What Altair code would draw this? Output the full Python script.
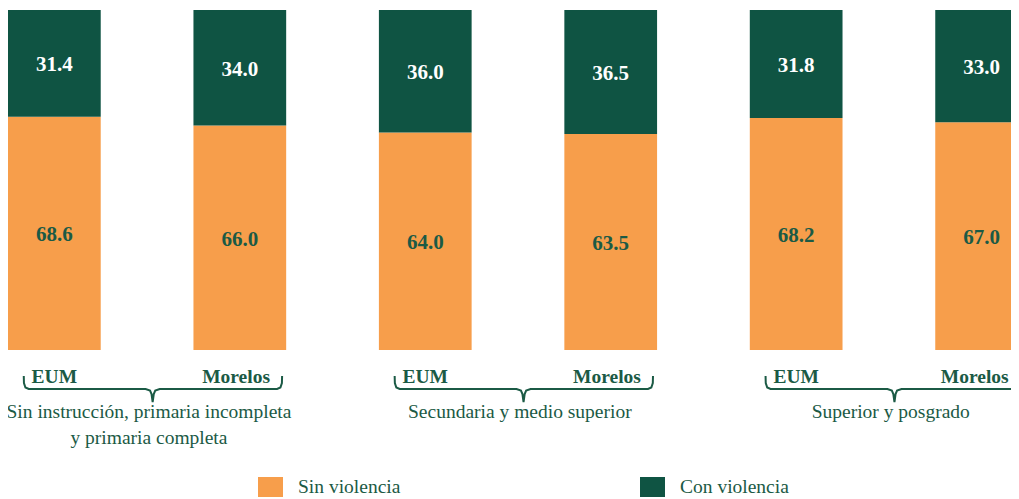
import altair as alt
import pandas as pd

# ---- data ----
categories = ["Sin violencia", "Con violencia"]
entities = ["EUM", "Morelos", "EUM", "Morelos", "EUM", "Morelos"]
bar_group = [0, 0, 1, 1, 2, 2]
sin_violencia = [68.6, 66.0, 64.0, 63.5, 68.2, 67.0]
con_violencia = [31.4, 34.0, 36.0, 36.5, 31.8, 33.0]
group_labels = [
    "Sin instrucción, primaria incompleta\ny primaria completa",
    "Secundaria y medio superior",
    "Superior y posgrado",
]

ORANGE = "#F79E4B"
GREEN = "#0F5443"
TEXT_GREEN = "#1B5A45"
FONT = "Liberation Serif"

rows = []
for i, (g, e, s, c) in enumerate(zip(bar_group, entities, sin_violencia, con_violencia)):
    rows.append({"idx": i, "group": g, "entity": e, "cat": categories[0], "ord": 0, "value": s})
    rows.append({"idx": i, "group": g, "entity": e, "cat": categories[1], "ord": 1, "value": c})
long = pd.DataFrame(rows)
bars_df = pd.DataFrame({"idx": list(range(len(entities))), "entity": entities, "group": bar_group})
groups_df = pd.DataFrame({"group": [0, 1, 2], "label": group_labels})

# brace outline: anchor (a = left end, m = middle, b = right end), offset in bar steps, pixel y
brace_anchor = ["a", "a", "a", "a", "m", "m", "m", "m", "m", "m", "m", "b", "b", "b", "b"]
brace_du = [0, 0.001, 0.009, 0.027, -0.038, -0.014, -0.006, 0, 0.006, 0.014, 0.038, -0.027, -0.009, -0.001, 0]
brace_y = [368, 375, 379.5, 381, 381, 382.5, 386, 394, 386, 382.5, 381, 381, 379.5, 375, 368]
brace_rows = []
for g in [0, 1, 2]:
    base = {"a": 2 * g + 0.085, "m": 2 * g + 0.78, "b": 2 * g + 1.478}
    for i, (an, du, yy) in enumerate(zip(brace_anchor, brace_du, brace_y)):
        brace_rows.append({"group": g, "i": i, "u": base[an] + du, "py": yy})
brace_df = pd.DataFrame(brace_rows)

# one bar step ~ 185.45 px; the visible width cuts into the last bar
x_scale = alt.Scale(domain=[0, 1003 / 185.45], nice=False, zero=False)
y_scale = alt.Scale(domain=[0, 100], range=[342, 2])

stacked = (
    alt.Chart(long)
    .transform_stack(stack="value", groupby=["idx"], as_=["v0", "v1"], sort=[alt.SortField("ord")])
    .transform_calculate(
        x0="datum.idx", x1="datum.idx + 0.5", xc="datum.idx + 0.25", mid="(datum.v0 + datum.v1) / 2"
    )
)

bars = stacked.mark_rect(strokeWidth=0).encode(
    x=alt.X("x0:Q", scale=x_scale, axis=None),
    x2="x1:Q",
    y=alt.Y("v0:Q", scale=y_scale, axis=None),
    y2="v1:Q",
    color=alt.Color(
        "cat:N",
        scale=alt.Scale(domain=categories, range=[ORANGE, GREEN]),
        legend=alt.Legend(
            title=None,
            orient="none",
            legendX=252.5,
            legendY=469,
            direction="horizontal",
            padding=0,
            symbolType="M-1.25,-1H1.25V1H-1.25Z",
            symbolSize=400,
            symbolStrokeWidth=0,
            labelFont=FONT,
            labelFontSize=19.5,
            labelColor=TEXT_GREEN,
            labelOffset=17.5,
            columnPadding=239,
        ),
    ),
)

values = stacked.mark_text(font=FONT, fontWeight="bold", fontSize=21, baseline="middle", dy=2).encode(
    x=alt.X("xc:Q", scale=x_scale, axis=None),
    y=alt.Y("mid:Q", scale=y_scale, axis=None),
    text=alt.Text("value:Q", format=".1f"),
    color=alt.condition("datum.cat == 'Con violencia'", alt.value("#FFFFFF"), alt.value(TEXT_GREEN)),
)

ent_labels = (
    alt.Chart(bars_df)
    .transform_calculate(xc="min(datum.idx + 0.25 - (datum.entity == 'Morelos' ? 0.02 : 0), 5.213)")
    .mark_text(font=FONT, fontWeight="bold", fontSize=19.5, color=TEXT_GREEN, baseline="middle")
    .encode(
        x=alt.X("xc:Q", scale=x_scale, axis=None),
        y=alt.value(369),
        text="entity:N",
    )
)

grp_labels = (
    alt.Chart(groups_df)
    .transform_calculate(u="2 * datum.group + 0.76")
    .mark_text(font=FONT, fontSize=19.5, color=TEXT_GREEN, baseline="middle", lineBreak="\n", lineHeight=25.5)
    .encode(
        x=alt.X("u:Q", scale=x_scale, axis=None),
        y=alt.value(404),
        text="label:N",
    )
)

braces = alt.Chart(brace_df).mark_line(color=TEXT_GREEN, strokeWidth=2).encode(
    x=alt.X("u:Q", scale=x_scale, axis=None),
    y=alt.Y("py:Q", scale=None, axis=None),
    detail="group:N",
    order="i:Q",
)

chart = (
    alt.layer(bars, values, ent_labels, braces, grp_labels)
    .resolve_scale(y="independent")
    .properties(width=1003, height=491, autosize=alt.AutoSizeParams(type="none"), padding=0)
    .configure_view(stroke=None)
)

chart.save("out.html", embed_options={"renderer": "svg", "actions": False})
